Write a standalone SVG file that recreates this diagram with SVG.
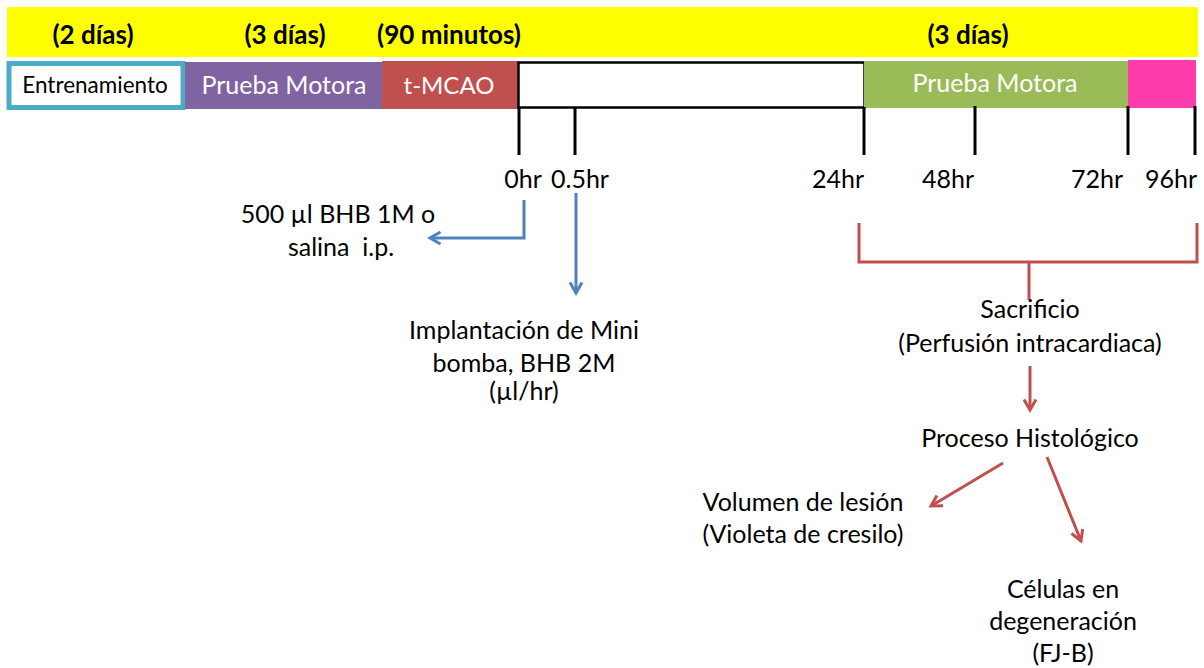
<svg xmlns="http://www.w3.org/2000/svg" width="1204" height="668" viewBox="0 0 1204 668">
<style>
text{font-family:Lato,"Open Sans","Liberation Sans",sans-serif;font-size:25px;fill:#000;text-anchor:middle}
.hdr{font-weight:bold;font-size:26px}
.wt{fill:#fff}
.end{text-anchor:end}
.tick{stroke:#000;stroke-width:3}
.blue{stroke:#4F81BD;stroke-width:3;fill:none}
.red{stroke:#C0504D;stroke-width:3;fill:none}
</style>
<defs>
<marker id="ab" viewBox="0 0 10 10" refX="8" refY="5" markerWidth="5" markerHeight="5" orient="auto"><path d="M1,1 L8,5 L1,9" fill="none" stroke="#4F81BD" stroke-width="2"/></marker>
<marker id="ar" viewBox="0 0 10 10" refX="8" refY="5" markerWidth="5" markerHeight="5" orient="auto"><path d="M1,1 L8,5 L1,9" fill="none" stroke="#C0504D" stroke-width="2"/></marker>
</defs>
<rect width="1204" height="668" fill="#fff"/>
<g id="header">
<rect x="7" y="7" width="1191" height="50" fill="#FFFF00"/>
<text class="hdr" x="93" y="44">(2 días)</text>
<text class="hdr" x="285" y="44">(3 días)</text>
<text class="hdr" x="449" y="44">(90 minutos)</text>
<text class="hdr" x="968" y="44">(3 días)</text>
</g>
<g id="entrenamiento">
<rect x="9" y="63.5" width="174" height="44" fill="#fff" stroke="#4BACC6" stroke-width="5"/>
<text x="95" y="93" style="font-size:22.5px">Entrenamiento</text>
</g>
<g id="prueba1">
<rect x="185" y="62" width="197" height="47" fill="#8064A2"/>
<text class="wt" x="284" y="94">Prueba Motora</text>
</g>
<g id="tmcao">
<rect x="382" y="61" width="136" height="48" fill="#C0504D"/>
<text class="wt" x="449" y="94" style="font-size:24px">t-MCAO</text>
</g>
<g id="blank">
<rect x="518.5" y="62.5" width="346" height="45" fill="#fff" stroke="#000" stroke-width="2.5"/>
</g>
<g id="prueba2">
<rect x="864" y="61" width="264" height="47" fill="#9BBB59"/>
<text class="wt" x="995" y="92">Prueba Motora</text>
</g>
<g id="pink-box">
<rect x="1128" y="60" width="68" height="48" fill="#FF3CAC"/>
</g>
<g id="ticks">
<line class="tick" x1="519" y1="107" x2="519" y2="155"/>
<line class="tick" x1="575" y1="107" x2="575" y2="155"/>
<line class="tick" x1="864" y1="107" x2="864" y2="155"/>
<line class="tick" x1="975" y1="106" x2="975" y2="155"/>
<line class="tick" x1="1128" y1="106" x2="1128" y2="155"/>
<line class="tick" x1="1195" y1="106" x2="1195" y2="155"/>
<text x="523" y="188">0hr</text>
<text x="580" y="188">0.5hr</text>
<text class="end" x="864" y="188">24hr</text>
<text class="end" x="974" y="188">48hr</text>
<text class="end" x="1123" y="188">72hr</text>
<text class="end" x="1197" y="188">96hr</text>
</g>
<g id="connectors">
<path class="blue" d="M524,200 V238 H430" marker-end="url(#ab)"/>
<path class="blue" d="M576,193 V293" marker-end="url(#ab)"/>
<path class="red" d="M859,223 V262 H1197 V223 M1029,262 V300"/>
<path class="red" d="M1030,366 V410" marker-end="url(#ar)"/>
<path class="red" d="M1003,463 L931,506" marker-end="url(#ar)"/>
<path class="red" d="M1047,457 L1081,541" marker-end="url(#ar)"/>
</g>
<g id="bhb">
<text x="338" y="223">500 µl BHB 1M o</text>
<text x="341" y="256" xml:space="preserve">salina  i.p.</text>
</g>
<g id="implantacion">
<text x="524" y="339">Implantación de Mini</text>
<text x="524" y="372">bomba, BHB 2M</text>
<text x="524" y="400">(µl/hr)</text>
</g>
<g id="sacrificio">
<text x="1030" y="318">Sacrificio</text>
<text x="1030" y="352">(Perfusión intracardiaca)</text>
</g>
<g id="histologico">
<text x="1030" y="447">Proceso Histológico</text>
</g>
<g id="volumen">
<text x="803" y="511">Volumen de lesión</text>
<text x="803" y="543">(Violeta de cresilo)</text>
</g>
<g id="celulas">
<text x="1063" y="598">Células en</text>
<text x="1063" y="630">degeneración</text>
<text x="1063" y="662">(FJ-B)</text>
</g>
</svg>
